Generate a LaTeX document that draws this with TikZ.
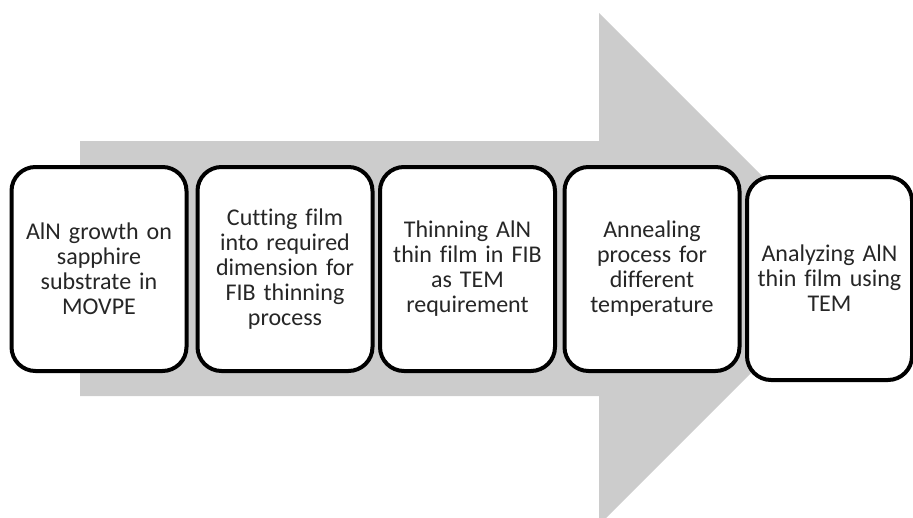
\documentclass[tikz,border=0pt]{standalone}
\usepackage{fontspec}
\setmainfont{Carlito}[Ligatures=NoCommon]
\usepackage{tikz}

\definecolor{arrowgray}{RGB}{204,204,204}
\definecolor{textgray}{RGB}{38,38,38}

\begin{document}
\begin{tikzpicture}[x=1pt,y=-1pt,
  stagebox/.style={draw=black, line width=4pt, fill=white, rounded corners=24pt,
    minimum width=175pt, minimum height=204pt, inner sep=0pt, text width=165pt,
    align=center, text=textgray, font=\fontsize{24}{25}\selectfont}]

\clip (0,0) rectangle (913,517);

% big gray arrow behind the stages
\coordinate (s1) at (80,141);
\coordinate (s2) at (599,141);
\coordinate (h1) at (599,13);
\coordinate (tip) at (855,269);
\coordinate (h2) at (599,525);
\coordinate (s3) at (599,396);
\coordinate (s4) at (80,396);
\fill[arrowgray] (s1) -- (s2) -- (h1) -- (tip) -- (h2) -- (s3) -- (s4) -- cycle;

% process stages
\node[stagebox] (growth) at (99,269) {AlN growth on\\sapphire\\substrate in\\MOVPE};
\node[stagebox] (cutting) at (285,269) {Cutting film\\into required\\dimension for\\FIB thinning\\process};
\node[stagebox] (thinning) at (467.5,269) {Thinning AlN\\thin film in FIB\\as TEM\\requirement};
\node[stagebox] (annealing) at (652,269) {Annealing\\process for\\different\\temperature};
\node[stagebox, minimum width=163pt, minimum height=203pt] (analyzing) at (829.5,278.5) {Analyzing AlN\\thin film using\\TEM};

\end{tikzpicture}
\end{document}
